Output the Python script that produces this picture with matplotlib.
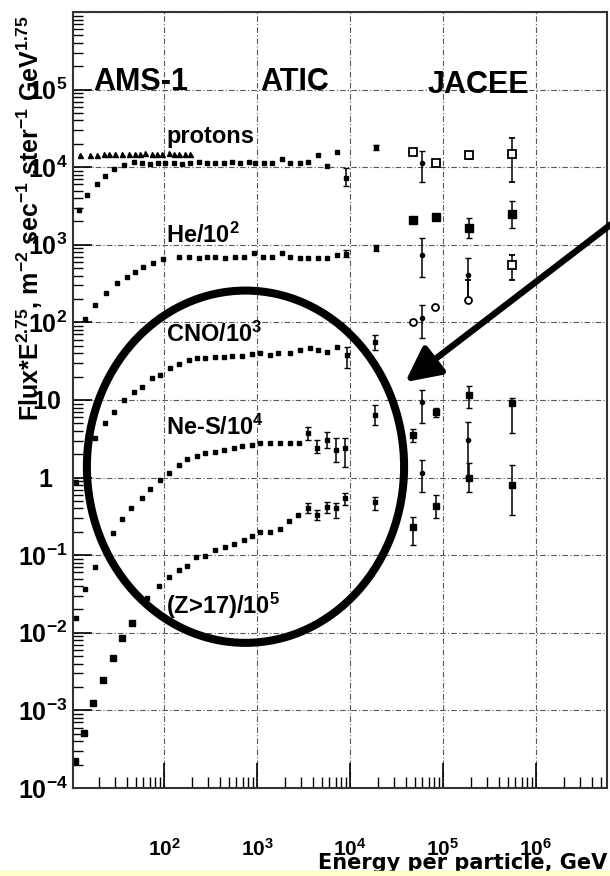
import numpy as np
import matplotlib
matplotlib.use("Agg")
import matplotlib.pyplot as plt
import matplotlib.ticker as mticker
from matplotlib.patches import Ellipse, Rectangle

plt.rcParams['font.family'] = ['Liberation Sans', 'DejaVu Sans']
plt.rcParams['font.weight'] = 'bold'
plt.rcParams['mathtext.default'] = 'regular'

# ---- data (energy in GeV, flux*E^2.75 scaled) ----
# AMS-1 protons (triangles)
ams_e = [12.5, 16.0, 19.0, 22.6, 25.6, 29.8, 35.3, 42.0, 48.7, 55.2, 62.5, 74.3,
         84.1, 95.2, 113, 128, 145, 168, 190]
ams_f = [1.42e4, 1.44e4, 1.45e4, 1.46e4, 1.47e4, 1.48e4, 1.48e4, 1.50e4, 1.50e4,
         1.49e4, 1.51e4, 1.50e4, 1.49e4, 1.50e4, 1.52e4, 1.48e4, 1.50e4, 1.49e4, 1.47e4]

# protons
p_e = [12.2, 14.9, 19.0, 23.2, 29.0, 37.1, 47.6, 58.0, 70.7, 86.1, 102, 128, 156, 190,
       238, 290, 353, 441, 538, 656, 820, 951, 1189, 1450, 1856, 2262, 2900, 3530,
       4530, 5660, 7240]
p_f = [2770, 4320, 6160, 7810, 9340, 10800, 11500, 11200, 11000, 11300, 11200, 11400,
       11100, 11200, 11500, 11300, 11200, 11400, 11600, 11300, 11500, 11400, 11200,
       11200, 12900, 11200, 11200, 11500, 14200, 10500, 15500]
p2_e = [9060, 1.90e4]
p2_f = [7360, 1.80e4]
p2_lo = [5800, 1.65e4]
p2_hi = [9620, 1.95e4]

# He / 10^2
he_e = [14.2, 18.1, 23.8, 31.2, 40.0, 48.7, 59.4, 76.2, 97.5, 145, 186, 238, 290, 353,
        453, 580, 725, 929, 1161, 1450, 1856, 2262, 2900, 3530, 4530, 5660, 7240]
he_f = [110, 166, 237, 319, 380, 441, 512, 576, 649, 689, 689, 669, 689, 689, 669, 689,
        689, 775, 689, 689, 775, 689, 669, 669, 669, 669, 731]
he2_e = [9060, 1.90e4]
he2_f = [760, 899]
he2_lo = [690, 830]
he2_hi = [850, 980]

# CNO / 10^3
cno_e = [11.3, 18.1, 23.2, 29.0, 37.1, 47.6, 58.0, 74.3, 90.6, 116, 145, 186, 226, 276,
         353, 441, 538, 690, 883, 1077, 1380, 1680, 2262, 2900, 3710, 4530, 5660, 7240]
cno_f = [0.875, 3.22, 5.02, 6.97, 9.94, 12.6, 14.6, 19.1, 20.8, 25.7, 28.9, 32.5, 34.5,
         34.5, 35.6, 35.6, 36.6, 36.6, 38.8, 40.0, 37.7, 40.0, 40.0, 43.8, 46.5, 43.8,
         41.2, 47.8]
cno2_e = [9280, 1.86e4]
cno2_f = [37.7, 55.5]
cno2_lo = [25.7, 43.8]
cno2_hi = [47.8, 68.2]

# Ne-S / 10^4
ne_e = [11.3, 14.2, 18.1, 28.3, 35.3, 44.2, 58.0, 70.7, 90.6, 113, 145, 177, 226, 276,
        353, 441, 566, 690, 883, 1077, 1380, 1766, 2262, 2830]
ne_f = [0.0156, 0.0367, 0.0705, 0.193, 0.292, 0.405, 0.544, 0.711, 0.929, 1.14, 1.45,
        1.73, 1.89, 2.07, 2.13, 2.26, 2.40, 2.54, 2.62, 2.78, 2.78, 2.78, 2.78, 2.78]
ne2_e = [3530, 4420, 5660, 7070, 8830, 1.86e4]
ne2_f = [3.74, 2.40, 3.04, 2.26, 2.40, 6.37]
ne2_lo = [3.04, 2.07, 2.40, 1.58, 1.36, 4.74]
ne2_hi = [4.47, 3.04, 3.85, 3.22, 3.22, 8.57]

# (Z>17) / 10^5
z_e = [11.0, 13.8, 17.3, 22.1, 28.3, 35.3, 45.3, 65.6, 88.3, 113, 145, 177, 221, 276,
       353, 453, 566, 725, 883, 1077, 1380, 1766, 2210, 2760]
z_f = [0.000225, 0.000515, 0.00125, 0.00248, 0.00475, 0.00859, 0.0134, 0.0281, 0.0402,
       0.0524, 0.0645, 0.0726, 0.0948, 0.0977, 0.117, 0.127, 0.139, 0.157, 0.177, 0.199,
       0.199, 0.217, 0.275, 0.329]
z2_e = [3530, 4420, 5660, 7070, 8830, 1.86e4]
z2_f = [0.405, 0.329, 0.417, 0.405, 0.544, 0.484]
z2_lo = [0.349, 0.284, 0.349, 0.301, 0.442, 0.382]
z2_hi = [0.470, 0.382, 0.484, 0.470, 0.631, 0.561]

# JACEE
jac_e = [4.8e4, 8.5e4, 1.88e5, 5.52e5]
jp_f = [1.59e4, 1.12e4, 1.42e4, 1.50e4]
jp_lo = [1.52e4, 1.07e4, 1.29e4, 6350]
jp_hi = [1.66e4, 1.17e4, 1.55e4, 2.41e4]
jhe_f = [2060, 2250, 1670, 2530]
jhe_lo = [1950, 2130, 1210, 1630]
jhe_hi = [2170, 2370, 2190, 3720]
jne_f = [3.52, 6.97, 11.5, 9.1]
jne_lo = [2.9, 6.0, 7.83, 3.74]
jne_hi = [4.2, 8.0, 15.1, 10.5]
jz_f = [0.231, 0.43, 0.986, 0.80]
jz_lo = [0.135, 0.301, 0.650, 0.329]
jz_hi = [0.310, 0.596, 1.54, 1.45]

# JACEE small points with error bars
js_e = [6.0e4, 6.0e4, 6.0e4, 6.0e4, 6.0e4, 1.86e5, 1.86e5]
js_f = [1.12e4, 731, 113, 9.37, 1.14, 404, 3.04]
js_lo = [6350, 380, 62.4, 5.02, 0.650, 192, 1.01]
js_hi = [1.64e4, 1210, 166, 13.4, 1.68, 669, 5.17]

# JACEE open symbols
jo_sq_e = [5.52e5]
jo_sq_f = [543]
jo_sq_lo = [349]
jo_sq_hi = [731]
jo_c_e = [4.8e4, 8.2e4, 1.86e5]
jo_c_f = [100, 156, 192]
jo_c_lo = [92, 148, 182]
jo_c_hi = [108, 165, 349]

group_labels = ['AMS-1', 'ATIC', 'JACEE']
group_x = [17.3, 1077, 6.9e4]
group_y = [1.0e5, 1.0e5, 0.9e5]
series_labels = ['protons', 'He/10$^{2}$', 'CNO/10$^{3}$', 'Ne-S/10$^{4}$', '(Z>17)/10$^{5}$']
series_y = [2.08e4, 1.05e3, 55.5, 3.52, 0.0175]


def errs(f, lo, hi):
    return [[a - b for a, b in zip(f, lo)], [b - a for a, b in zip(f, hi)]]


def draw(ax, e, f, lo, hi, marker, ms, mfc='k', mew=1.0):
    ax.errorbar(e, f, yerr=errs(f, lo, hi), fmt=marker, ms=ms, mfc=mfc, mec='k',
                mew=mew, ecolor='k', elinewidth=1.1, capsize=2, capthick=1.0)


def fmt(v, pos):
    n = int(round(np.log10(v)))
    if n > 5:
        return ''
    if n == 0:
        return '1  '
    if n == 1:
        return '10 '
    return '10$^{%d}$' % n


fig = plt.figure(figsize=(6.1, 8.76), dpi=100)
ax = fig.add_axes([0.1197, 0.1005, 0.8754, 0.8858])
ax.set_xscale('log')
ax.set_yscale('log')
ax.set_xlim(10.5, 5.8e6)
ax.set_ylim(1e-4, 1e6)

ax.grid(True, which='major', ls=(0, (5, 2, 1, 2)), color='0.35', lw=0.8)
ax.xaxis.set_major_locator(mticker.FixedLocator([1e2, 1e3, 1e4, 1e5, 1e6]))
ax.xaxis.set_minor_locator(mticker.LogLocator(base=10, subs=np.arange(2, 10), numticks=20))
ax.yaxis.set_major_locator(mticker.LogLocator(base=10, numticks=20))
ax.yaxis.set_minor_locator(mticker.LogLocator(base=10, subs=np.arange(2, 10), numticks=20))
ax.xaxis.set_major_formatter(mticker.FuncFormatter(fmt))
ax.yaxis.set_major_formatter(mticker.FuncFormatter(fmt))
ax.xaxis.set_minor_formatter(mticker.NullFormatter())
ax.yaxis.set_minor_formatter(mticker.NullFormatter())
ax.xaxis.set_major_formatter(mticker.FuncFormatter(lambda v, p: '10$^{%d}$' % round(np.log10(v))))
ax.tick_params(which='both', direction='in', top=False, right=False, color='k')
ax.tick_params(axis='x', which='major', length=18, width=1.2, labelsize=15, pad=36)
ax.tick_params(axis='x', which='minor', length=8, width=1.0)
ax.tick_params(axis='y', which='major', length=14, width=1.2, labelsize=18, pad=4)
ax.tick_params(axis='y', which='minor', length=7, width=1.0)
for s in ax.spines.values():
    s.set_linewidth(1.5)
    s.set_color('0.2')

# data points
ax.plot(ams_e, ams_f, '^', ms=3.6, color='k')
ax.plot(p_e, p_f, 's', ms=3.0, color='k')
ax.plot(he_e, he_f, 's', ms=3.0, color='k')
ax.plot(cno_e, cno_f, 's', ms=3.0, color='k')
ax.plot(ne_e, ne_f, 's', ms=3.0, color='k')
ax.plot(z_e[:7], z_f[:7], 's', ms=4.0, color='k')
ax.plot(z_e[7:], z_f[7:], 's', ms=3.2, color='k')
draw(ax, p2_e, p2_f, p2_lo, p2_hi, 's', 3.0)
draw(ax, he2_e, he2_f, he2_lo, he2_hi, 's', 3.0)
draw(ax, cno2_e, cno2_f, cno2_lo, cno2_hi, 's', 3.0)
draw(ax, ne2_e, ne2_f, ne2_lo, ne2_hi, 's', 3.0)
draw(ax, z2_e, z2_f, z2_lo, z2_hi, 's', 3.4)

draw(ax, jac_e, jp_f, jp_lo, jp_hi, 's', 5.5, mfc='white', mew=1.3)
draw(ax, jac_e, jhe_f, jhe_lo, jhe_hi, 's', 5.2)
draw(ax, jac_e, jne_f, jne_lo, jne_hi, 's', 5.0)
draw(ax, jac_e, jz_f, jz_lo, jz_hi, 's', 5.0)
draw(ax, js_e, js_f, js_lo, js_hi, 'o', 3.0)
draw(ax, jo_sq_e, jo_sq_f, jo_sq_lo, jo_sq_hi, 's', 5.5, mfc='white', mew=1.3)
draw(ax, jo_c_e, jo_c_f, jo_c_lo, jo_c_hi, 'o', 5.0, mfc='white', mew=1.3)

# labels
for lab, x, y in zip(group_labels, group_x, group_y):
    ax.text(x, y, lab, fontsize=22, fontweight='bold', va='baseline', ha='left')
for lab, y in zip(series_labels, series_y):
    ax.text(105, y, lab, fontsize=17, fontweight='bold', va='baseline', ha='left')

fig.text(0.049, 0.751,
         'Flux*E$^{2.75}$, m$^{-2}$ sec$^{-1}$ ster$^{-1}$ GeV$^{1.75}$',
         rotation=90, ha='center', va='center', fontsize=18, fontweight='bold')
fig.text(0.521, 0.0075, 'Energy per particle, GeV', ha='left', va='baseline',
         fontsize=15, fontweight='bold', family='DejaVu Sans')

# annotation: ellipse and arrow
ax.add_patch(Ellipse((0.323, 0.414), 0.594, 0.454, transform=ax.transAxes,
                     fill=False, ec='k', lw=5.8, zorder=6, clip_on=False))
ax.annotate('', xy=(0.622, 0.523), xytext=(1.02, 0.733), xycoords='axes fraction',
            textcoords='axes fraction', annotation_clip=False,
            arrowprops=dict(arrowstyle='-|>,head_length=2.1,head_width=1.05',
                            mutation_scale=10, lw=4.6, color='k', shrinkA=0, shrinkB=0),
            zorder=6)

fig.patches.append(Rectangle((0, 0), 1, 5 / 876, transform=fig.transFigure,
                             color='#ffffc8', zorder=10))

fig.savefig('out.png', dpi=100)
